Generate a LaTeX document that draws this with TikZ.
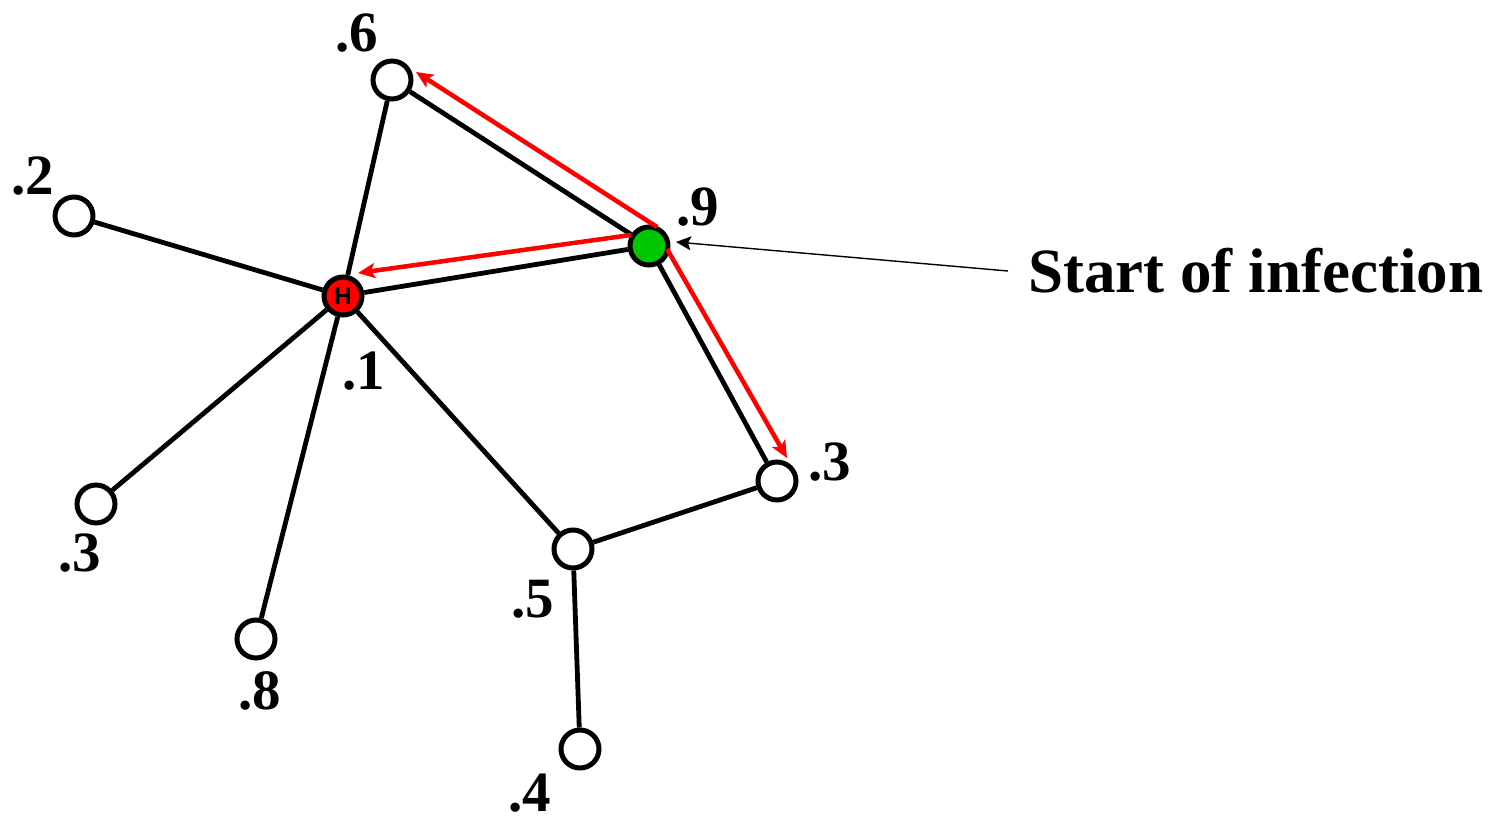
\documentclass[tikz,border=0pt]{standalone}
\usepackage{fontspec}
\setmainfont{Liberation Serif}
\newfontfamily\hfont{Liberation Sans}
\usetikzlibrary{arrows.meta}
\definecolor{infred}{RGB}{255,0,0}
\definecolor{infgreen}{RGB}{0,200,0}
\pgfdeclarelayer{bg}
\pgfsetlayers{bg,main}
\tikzset{
  vtx/.style={circle, draw=black, line width=5pt, fill=white, minimum size=38pt, inner sep=0pt},
  edge/.style={draw=black, line width=4.8pt},
  redarrow/.style={draw=infred, line width=4.5pt, -{Stealth[length=17pt,width=15pt,inset=4pt]}},
  thinarrow/.style={draw=black, line width=1.4pt, -{Stealth[length=15pt,width=14pt,inset=3pt]}},
  lbl/.style={inner sep=0pt, font=\fontsize{57}{60}\selectfont\bfseries},
  bigtext/.style={inner sep=0pt, font=\fontsize{63}{66}\selectfont\bfseries}
}
\begin{document}
\begin{tikzpicture}[x=1pt,y=-1pt]
\useasboundingbox (0,0) rectangle (1505,821);
% vertices
\coordinate (pH) at (343,296);
\coordinate (pG) at (649,246);
\node[vtx] (n6) at (392,80) {};
\node[vtx] (n2) at (74,216) {};
\node[vtx] (n3a) at (96,504) {};
\node[vtx] (n8) at (256,639) {};
\node[vtx] (n5) at (573,549) {};
\node[vtx] (n3b) at (777,481) {};
\node[vtx] (n4) at (580,749) {};
\node[vtx, fill=infred] (H) at (pH) {\hfont\fontsize{24}{24}\selectfont\bfseries H};
\node[vtx, fill=infgreen] (G) at (pG) {};
% edges (behind nodes)
\begin{pgfonlayer}{bg}
\draw[edge] (H) -- (n6);
\draw[edge] (H) -- (n2);
\draw[edge] (H) -- (n3a);
\draw[edge] (H) -- (n8);
\draw[edge] (H) -- (n5);
\draw[edge] (H) -- (G);
\draw[edge] (G) -- (n6);
\draw[edge] (G) -- (n3b);
\draw[edge] (n5) -- (n3b);
\draw[edge] (n5) -- (n4);
\end{pgfonlayer}
% red spread arrows
\coordinate (r1s) at (657,227);
\coordinate (r1e) at (416,72);
\coordinate (r2s) at (631,235);
\coordinate (r2e) at (358,273);
\coordinate (r3s) at (667,249);
\coordinate (r3e) at (787,458);
\draw[redarrow] (r1s) -- (r1e);
\draw[redarrow] (r2s) -- (r2e);
\draw[redarrow] (r3s) -- (r3e);
% labels
\node[lbl] (l6) at (357,33) {.6};
\node[lbl] (l2) at (33,176) {.2};
\node[lbl] (l1) at (364,371) {.1};
\node[lbl] (l3a) at (80,553) {.3};
\node[lbl] (l8) at (260,691) {.8};
\node[lbl] (l5) at (533,599) {.5};
\node[lbl] (l4) at (530,793) {.4};
\node[lbl] (l3b) at (830,462) {.3};
\node[lbl] (l9) at (698,207) {.9};
% annotation
\node[bigtext, anchor=base west] (start) at (1028,292) {Start of infection};
\coordinate (ts) at (1008,271);
\coordinate (tG) at (676,242);
\draw[thinarrow] (ts) -- (tG);
\end{tikzpicture}
\end{document}
